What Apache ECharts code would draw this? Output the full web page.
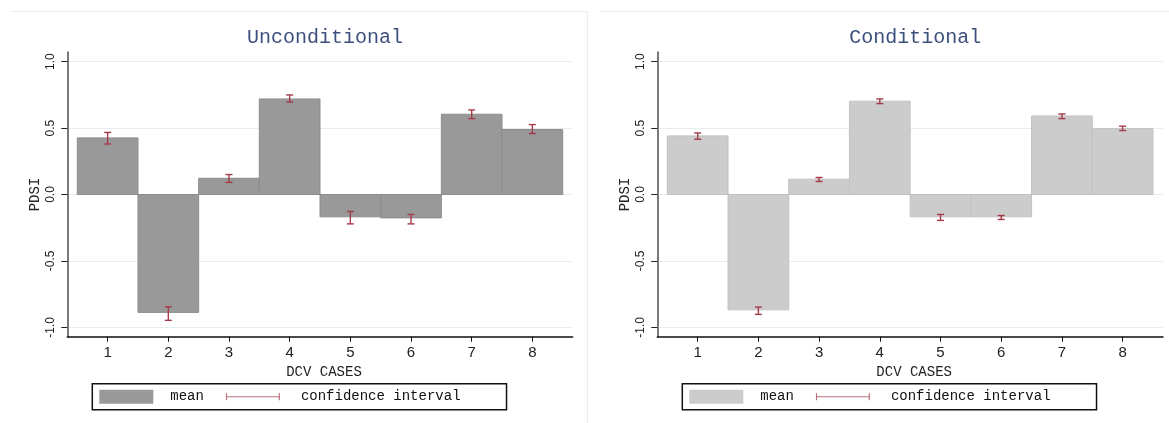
<!DOCTYPE html>
<html>
<head>
<meta charset="utf-8">
<title>PDSI by DCV case</title>
<script src="https://cdn.jsdelivr.net/npm/echarts@6/dist/echarts.min.js"></script>
<style>
  html, body { margin: 0; padding: 0; background: #fff; }
  #chart { width: 1169px; height: 423px; }
</style>
</head>
<body>
<div id="chart"></div>
<script>
// DCV cases on the x axis
const cases = [1, 2, 3, 4, 5, 6, 7, 8];
const yTicks = [-1, -0.5, 0, 0.5, 1];

// Unconditional PDSI: mean and confidence interval bounds
const uncondMean = [0.426, -0.887, 0.122, 0.719, -0.168, -0.176, 0.604, 0.489];
const uncondLow  = [0.380, -0.947, 0.091, 0.696, -0.221, -0.221, 0.571, 0.459];
const uncondHigh = [0.467, -0.845, 0.150, 0.749, -0.128, -0.150, 0.636, 0.526];

// Conditional PDSI: mean and confidence interval bounds
const condMean = [0.441, -0.868, 0.115, 0.702, -0.168, -0.168, 0.591, 0.496];
const condLow  = [0.416, -0.902, 0.098, 0.684, -0.195, -0.188, 0.571, 0.481];
const condHigh = [0.463, -0.847, 0.128, 0.719, -0.150, -0.158, 0.606, 0.514];

const MONO = '"Liberation Mono", "DejaVu Sans Mono", monospace';
const SANS = '"Liberation Sans", Arial, sans-serif';
const CI_COLOR = '#a53a48';
const GRID_COLOR = '#e6eeee';

const panels = [
  { title: 'Unconditional', mean: uncondMean, low: uncondLow, high: uncondHigh,
    fill: '#999999', stroke: '#8d8d8d', left: 67.3, right: 596.3 },
  { title: 'Conditional', mean: condMean, low: condLow, high: condHigh,
    fill: '#cccccc', stroke: '#c2c2c2', left: 657.3, right: 6 }
];

const CI_ICON = 'path://M0,0M54,14M0,3.5h1.2v7h-1.2zM0,6.45h54v1.1h-54zM52.8,3.5h1.2v7h-1.2z';

function barItem(params, api) {
  const x = api.value(0), v = api.value(1);
  const a = api.coord([x - 0.5, 0]);
  const b = api.coord([x + 0.5, v]);
  return {
    type: 'rect',
    shape: { x: Math.min(a[0], b[0]), y: Math.min(a[1], b[1]),
             width: Math.abs(b[0] - a[0]), height: Math.abs(b[1] - a[1]) },
    style: api.style({ lineWidth: 1 })
  };
}

function ciItem(params, api) {
  const x = api.value(0);
  const lo = api.coord([x, api.value(1)]);
  const hi = api.coord([x, api.value(2)]);
  const hw = 3.5;
  const st = { stroke: CI_COLOR, lineWidth: 1.4, fill: null };
  return {
    type: 'group',
    children: [
      { type: 'line', shape: { x1: lo[0], y1: lo[1], x2: hi[0], y2: hi[1] }, style: st },
      { type: 'line', shape: { x1: lo[0] - hw, y1: lo[1], x2: lo[0] + hw, y2: lo[1] }, style: st },
      { type: 'line', shape: { x1: hi[0] - hw, y1: hi[1], x2: hi[0] + hw, y2: hi[1] }, style: st }
    ]
  };
}

const option = {
  animation: false,
  backgroundColor: '#ffffff',
  title: [], grid: [], xAxis: [], yAxis: [], legend: [], series: [],
  graphic: [
    // panel frames
    { type: 'line', shape: { x1: 10, y1: 11.5, x2: 587.5, y2: 11.5 }, style: { stroke: GRID_COLOR, lineWidth: 1 } },
    { type: 'line', shape: { x1: 587.5, y1: 11.5, x2: 587.5, y2: 423 }, style: { stroke: GRID_COLOR, lineWidth: 1 } },
    { type: 'line', shape: { x1: 601, y1: 11.5, x2: 1169, y2: 11.5 }, style: { stroke: GRID_COLOR, lineWidth: 1 } }
  ]
};

panels.forEach((p, i) => {
  const plotLeft = p.left;
  const plotRight = 1169 - p.right;
  const mid = (plotLeft + plotRight) / 2;
  const titleWidth = p.title.length * 12;

  option.title.push({
    text: p.title,
    left: mid + 5 - titleWidth / 2,
    top: 28,
    padding: 0,
    textStyle: { fontFamily: MONO, fontSize: 20, fontWeight: 'normal', color: '#3d4f7c' }
  });

  option.grid.push({ left: p.left, right: p.right, top: 52.3, bottom: 86.3, containLabel: false });

  option.xAxis.push({
    gridIndex: i, type: 'value', min: 0.335, max: 8.665,
    name: 'DCV CASES', nameLocation: 'middle', nameGap: 24,
    nameTextStyle: { fontFamily: MONO, fontSize: 14, color: '#222', padding: [0, 0, 0, 8] },
    axisLine: { show: true, onZero: false, lineStyle: { color: '#111', width: 1.5 } },
    axisTick: { show: true, customValues: cases, length: 5, lineStyle: { color: '#111', width: 1 } },
    axisLabel: { customValues: cases, fontFamily: SANS, fontSize: 15, color: '#222', margin: 9 },
    splitLine: { show: false }
  });

  option.yAxis.push({
    gridIndex: i, type: 'value', min: -1.07, max: 1.07,
    name: 'PDSI', nameLocation: 'middle', nameGap: 17, nameRotate: 90,
    nameTextStyle: { fontFamily: MONO, fontSize: 14, color: '#222', padding: [0, 0, 8, 0] },
    axisLine: { show: true, onZero: false, lineStyle: { color: '#7a7a7a', width: 2 } },
    axisTick: { show: true, customValues: yTicks, length: 6, lineStyle: { color: '#222', width: 1 } },
    axisLabel: {
      customValues: yTicks, rotate: 90, margin: 11,
      fontFamily: SANS, fontSize: 12, color: '#222',
      formatter: v => v.toFixed(1)
    },
    splitLine: { show: true, lineStyle: { color: GRID_COLOR, width: 1 } }
  });

  option.legend.push({
    left: plotLeft + 25, top: 383.7,
    orient: 'horizontal', selectedMode: false,
    borderColor: '#111', borderWidth: 1.5, borderRadius: 0,
    padding: [6, 46, 6, 7],
    itemWidth: 54, itemHeight: 14, itemGap: 22,
    textStyle: { fontFamily: MONO, fontSize: 14, color: '#111', padding: [0, 0, 0, 12] },
    data: [
      { name: 'mean', icon: 'rect', itemStyle: { color: p.fill, borderColor: p.stroke, borderWidth: 0 } },
      { name: 'confidence interval', icon: CI_ICON,
        itemStyle: { color: '#b8707c', borderWidth: 0 },
        textStyle: { padding: [0, 0, 0, 16] } }
    ]
  });

  option.series.push({
    type: 'custom', name: 'mean', xAxisIndex: i, yAxisIndex: i,
    renderItem: barItem,
    itemStyle: { color: p.fill, borderColor: p.stroke, borderWidth: 1 },
    encode: { x: 0, y: 1 },
    data: cases.map((c, k) => [c, p.mean[k]]),
    z: 2
  });

  option.series.push({
    type: 'custom', name: 'confidence interval', xAxisIndex: i, yAxisIndex: i,
    renderItem: ciItem,
    itemStyle: { color: CI_COLOR },
    encode: { x: 0, y: [1, 2] },
    data: cases.map((c, k) => [c, p.low[k], p.high[k]]),
    z: 3
  });
});

const chart = echarts.init(document.getElementById('chart'), null, { renderer: 'canvas' });
chart.setOption(option);
</script>
</body>
</html>
